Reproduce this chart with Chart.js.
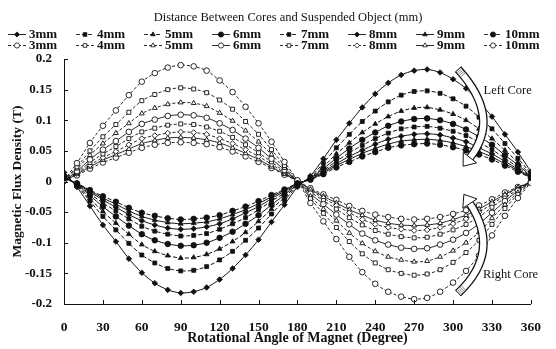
<!DOCTYPE html>
<html>
<head>
<meta charset="utf-8">
<script src="https://cdn.jsdelivr.net/npm/chart.js@4/dist/chart.umd.min.js"></script>
<style>
html,body{margin:0;padding:0;background:#fff;}
canvas{display:block;}
</style>
</head>
<body>
<canvas id="c" width="556" height="349"></canvas>
<script>
// ---------- data ----------
const angles = [0,10,20,30,40,50,60,70,80,90,100,110,120,130,140,150,160,170,180,190,200,210,220,230,240,250,260,270,280,290,300,310,320,330,340,350,360];
const seriesLabels = ['3mm','4mm','5mm','6mm','7mm','8mm','9mm','10mm'];
const xTickLabels = ['0','30','60','90','120','150','180','210','240','270','300','330','360'];
const yTickLabels = ['-0.2','-0.15','-0.1','-0.05','0','0.05','0.1','0.15','0.2'];
const legendTitle = 'Distance Between Cores and Suspended Object (mm)';
const xTitle = 'Rotational Angle of Magnet (Degree)';
const yTitle = 'Magnetic Flux Density (T)';

// Left core (filled markers)
const left3  = [0.015,-0.009,-0.040,-0.071,-0.098,-0.126,-0.149,-0.166,-0.177,-0.182,-0.180,-0.173,-0.160,-0.142,-0.120,-0.095,-0.066,-0.038,-0.009,0.009,0.037,0.068,0.095,0.121,0.143,0.161,0.174,0.181,0.183,0.178,0.167,0.152,0.130,0.106,0.077,0.048,0.016];
const left4  = [0.012,-0.007,-0.032,-0.057,-0.079,-0.101,-0.120,-0.133,-0.142,-0.146,-0.145,-0.139,-0.128,-0.114,-0.096,-0.076,-0.053,-0.031,-0.007,0.007,0.030,0.055,0.077,0.098,0.115,0.130,0.141,0.147,0.148,0.144,0.135,0.123,0.105,0.086,0.062,0.038,0.013];
const left5  = [0.010,-0.006,-0.028,-0.049,-0.068,-0.086,-0.103,-0.114,-0.121,-0.125,-0.124,-0.119,-0.110,-0.098,-0.083,-0.065,-0.045,-0.026,-0.006,0.006,0.024,0.045,0.063,0.080,0.094,0.106,0.115,0.120,0.121,0.117,0.110,0.100,0.086,0.070,0.051,0.031,0.011];
const left6  = [0.009,-0.005,-0.023,-0.041,-0.057,-0.072,-0.086,-0.096,-0.102,-0.105,-0.104,-0.100,-0.092,-0.082,-0.069,-0.055,-0.038,-0.022,-0.005,0.005,0.021,0.038,0.054,0.068,0.080,0.091,0.098,0.102,0.103,0.100,0.094,0.085,0.073,0.060,0.043,0.027,0.009];
const left7  = [0.007,-0.004,-0.020,-0.035,-0.048,-0.061,-0.073,-0.081,-0.086,-0.089,-0.088,-0.085,-0.078,-0.069,-0.059,-0.046,-0.032,-0.019,-0.004,0.005,0.018,0.033,0.047,0.059,0.070,0.079,0.086,0.089,0.090,0.087,0.082,0.075,0.064,0.052,0.038,0.023,0.008];
const left8  = [0.006,-0.004,-0.017,-0.030,-0.042,-0.054,-0.064,-0.071,-0.076,-0.078,-0.077,-0.074,-0.069,-0.061,-0.051,-0.041,-0.028,-0.016,-0.004,0.004,0.016,0.029,0.041,0.051,0.061,0.069,0.074,0.077,0.078,0.076,0.071,0.065,0.055,0.045,0.033,0.020,0.007];
const left9  = [0.006,-0.003,-0.015,-0.027,-0.037,-0.048,-0.057,-0.063,-0.067,-0.069,-0.068,-0.066,-0.061,-0.054,-0.046,-0.036,-0.025,-0.014,-0.003,0.003,0.014,0.026,0.036,0.046,0.054,0.061,0.066,0.068,0.069,0.067,0.063,0.057,0.049,0.040,0.029,0.018,0.006];
const left10 = [0.005,-0.003,-0.014,-0.024,-0.033,-0.043,-0.051,-0.056,-0.060,-0.062,-0.061,-0.059,-0.055,-0.048,-0.041,-0.032,-0.022,-0.013,-0.003,0.003,0.012,0.023,0.032,0.041,0.048,0.055,0.059,0.061,0.062,0.060,0.056,0.051,0.044,0.036,0.026,0.016,0.006];

// Right core (open markers)
const right3  = [0.002,0.030,0.063,0.091,0.116,0.141,0.163,0.177,0.186,0.190,0.188,0.181,0.165,0.146,0.122,0.095,0.065,0.032,0.002,-0.035,-0.065,-0.094,-0.123,-0.148,-0.167,-0.180,-0.188,-0.192,-0.190,-0.180,-0.165,-0.146,-0.121,-0.088,-0.056,-0.027,-0.002];
const right4  = [0.002,0.024,0.050,0.073,0.093,0.113,0.132,0.142,0.150,0.153,0.151,0.145,0.133,0.118,0.098,0.077,0.052,0.026,0.002,-0.028,-0.052,-0.075,-0.098,-0.118,-0.133,-0.144,-0.150,-0.153,-0.151,-0.144,-0.132,-0.116,-0.096,-0.070,-0.044,-0.021,-0.002];
const right5  = [0.002,0.021,0.043,0.062,0.079,0.095,0.111,0.120,0.126,0.129,0.128,0.123,0.112,0.099,0.083,0.065,0.044,0.022,0.001,-0.024,-0.045,-0.064,-0.084,-0.101,-0.114,-0.123,-0.128,-0.131,-0.130,-0.123,-0.113,-0.100,-0.083,-0.060,-0.038,-0.018,-0.001];
const right6  = [0.001,0.017,0.036,0.052,0.066,0.081,0.094,0.101,0.107,0.109,0.108,0.104,0.095,0.084,0.070,0.055,0.037,0.019,0.001,-0.020,-0.037,-0.054,-0.070,-0.085,-0.096,-0.103,-0.108,-0.110,-0.109,-0.103,-0.095,-0.084,-0.069,-0.051,-0.032,-0.015,-0.001];
const right7  = [0.001,0.015,0.031,0.045,0.057,0.070,0.081,0.087,0.092,0.094,0.093,0.089,0.082,0.072,0.060,0.047,0.032,0.016,0.001,-0.017,-0.031,-0.045,-0.059,-0.071,-0.080,-0.086,-0.090,-0.092,-0.091,-0.086,-0.079,-0.070,-0.058,-0.042,-0.027,-0.013,-0.001];
const right8  = [0.001,0.013,0.027,0.039,0.049,0.060,0.070,0.075,0.079,0.081,0.080,0.077,0.070,0.062,0.052,0.041,0.028,0.014,0.001,-0.014,-0.027,-0.039,-0.051,-0.062,-0.070,-0.075,-0.078,-0.080,-0.079,-0.075,-0.069,-0.061,-0.050,-0.037,-0.023,-0.011,-0.001];
const right9  = [0.001,0.012,0.024,0.035,0.044,0.053,0.062,0.067,0.071,0.072,0.071,0.068,0.063,0.055,0.046,0.036,0.024,0.012,0.001,-0.013,-0.024,-0.035,-0.046,-0.055,-0.063,-0.068,-0.071,-0.072,-0.071,-0.068,-0.062,-0.055,-0.045,-0.033,-0.021,-0.010,-0.001];
const right10 = [0.001,0.010,0.021,0.031,0.039,0.047,0.055,0.060,0.063,0.064,0.063,0.061,0.056,0.049,0.041,0.032,0.022,0.011,0.001,-0.011,-0.021,-0.030,-0.040,-0.048,-0.054,-0.058,-0.061,-0.062,-0.061,-0.058,-0.053,-0.047,-0.039,-0.029,-0.018,-0.009,-0.001];

const leftSeries  = [left3,left4,left5,left6,left7,left8,left9,left10];
const rightSeries = [right3,right4,right5,right6,right7,right8,right9,right10];

// ---------- styles ----------
const FONT = '"Liberation Serif", "Times New Roman", serif';
const INK = '#111';
const leftShapes  = ['rectRot','rect','triangle','circle','rect','rectRot','triangle','circle'];
const rightShapes = ['circle','rect','triangle','circle','rect','rectRot','triangle','circle'];
const leftDash  = [[],[4,2],[4,2],[],[4,2],[],[],[4,2]];
const rightDash = [[3,2],[3,2],[3,2],[],[3,2],[3,2],[],[3,2]];

function toPoints(vals){ return angles.map((a,i)=>({x:a,y:vals[i]})); }

const datasets = [];
leftSeries.forEach((vals,i)=>{
  datasets.push({
    label: seriesLabels[i], data: toPoints(vals),
    borderColor: INK, backgroundColor: INK, borderWidth: 1, borderDash: leftDash[i],
    pointStyle: leftShapes[i], pointRadius: 2.8, pointBorderWidth: 0.8,
    pointBackgroundColor: INK, pointBorderColor: INK, tension: 0.25, fill:false
  });
});
rightSeries.forEach((vals,i)=>{
  datasets.push({
    label: seriesLabels[i], data: toPoints(vals),
    borderColor: INK, backgroundColor: '#fff', borderWidth: 0.9, borderDash: rightDash[i],
    pointStyle: rightShapes[i], pointRadius: 2.8, pointBorderWidth: 0.9,
    pointBackgroundColor: '#fff', pointBorderColor: INK, tension: 0.25, fill:false
  });
});

// ---------- plugins ----------
const innerTicks = {
  id: 'innerTicks',
  afterDraw(chart){
    const {ctx, chartArea:a, scales:{x,y}} = chart;
    ctx.save();
    ctx.strokeStyle = INK; ctx.lineWidth = 1; ctx.setLineDash([]);
    x.ticks.forEach(t=>{ const px = Math.round(x.getPixelForValue(t.value))+0.5; ctx.beginPath(); ctx.moveTo(px,a.bottom); ctx.lineTo(px,a.bottom-4); ctx.stroke(); });
    y.ticks.forEach(t=>{ const py = Math.round(y.getPixelForValue(t.value))+0.5; ctx.beginPath(); ctx.moveTo(a.left,py); ctx.lineTo(a.left+4,py); ctx.stroke(); });
    ctx.restore();
  }
};

const legendX0 = 8, legendDX = 68, legendY0 = 34, legendDY = 11;
const customLegend = {
  id: 'customLegend',
  afterDraw(chart){
    const ctx = chart.ctx;
    ctx.save();
    ctx.fillStyle = INK;
    ctx.font = '12.5px ' + FONT;
    ctx.textAlign = 'center'; ctx.textBaseline = 'middle';
    ctx.fillText(legendTitle, 288, 18);
    ctx.textAlign = 'left';
    ctx.font = 'bold 13px ' + FONT;
    chart.data.datasets.forEach((ds,i)=>{
      const row = Math.floor(i/8), col = i%8;
      const x = legendX0 + col*legendDX, y = legendY0 + row*legendDY;
      ctx.strokeStyle = INK; ctx.lineWidth = 0.9; ctx.setLineDash(ds.borderDash||[]);
      ctx.beginPath(); ctx.moveTo(x, y+0.5); ctx.lineTo(x+18, y+0.5); ctx.stroke();
      ctx.setLineDash([]);
      ctx.fillStyle = ds.pointBackgroundColor; ctx.strokeStyle = INK; ctx.lineWidth = 0.8;
      Chart.helpers.drawPoint(ctx, {pointStyle: ds.pointStyle, radius: 2.6, borderWidth: 0.8, rotation: 0}, x+9, y+0.5);
      ctx.fillStyle = INK;
      ctx.fillText(ds.label, x+21, y+1);
    });
    ctx.restore();
  }
};

// annotation anchors in data units (angle, flux)
const leftArrow  = {p0:[304,0.183], m:[323,0.108], p1:[313,0.039]};
const rightArrow = {p0:[304,-0.182], m:[323,-0.112], p1:[313,-0.036]};
const leftLabel  = {text:'Left Core',  x:323.5, y:0.149};
const rightLabel = {text:'Right Core', x:323,   y:-0.152};

function drawArrow(ctx, x, y, spec){
  const P0 = [x.getPixelForValue(spec.p0[0]), y.getPixelForValue(spec.p0[1])];
  const M  = [x.getPixelForValue(spec.m[0]),  y.getPixelForValue(spec.m[1])];
  const P1 = [x.getPixelForValue(spec.p1[0]), y.getPixelForValue(spec.p1[1])];
  const C = [2*M[0]-(P0[0]+P1[0])/2, 2*M[1]-(P0[1]+P1[1])/2];
  let dx = P1[0]-C[0], dy = P1[1]-C[1]; const L = Math.hypot(dx,dy); dx/=L; dy/=L;
  const nx = -dy, ny = dx;
  ctx.lineCap = 'butt';
  ctx.strokeStyle = INK; ctx.lineWidth = 8.5;
  ctx.beginPath(); ctx.moveTo(P0[0],P0[1]); ctx.quadraticCurveTo(C[0],C[1],P1[0],P1[1]); ctx.stroke();
  ctx.strokeStyle = '#fff'; ctx.lineWidth = 6;
  ctx.beginPath(); ctx.moveTo(P0[0],P0[1]); ctx.quadraticCurveTo(C[0],C[1],P1[0],P1[1]); ctx.stroke();
  let tx = C[0]-P0[0], ty = C[1]-P0[1]; const TL = Math.hypot(tx,ty); tx/=TL; ty/=TL;
  ctx.strokeStyle = '#555'; ctx.lineWidth = 0.7;
  for(let k=1;k<=4;k++){
    const cx = P0[0]+tx*k*1.8, cy = P0[1]+ty*k*1.8;
    ctx.beginPath(); ctx.moveTo(cx-ty*2.8, cy+tx*2.8); ctx.lineTo(cx+ty*2.8, cy-tx*2.8); ctx.stroke();
  }
  ctx.strokeStyle = INK; ctx.lineWidth = 1;
  ctx.beginPath(); ctx.moveTo(P0[0]-ty*4.2, P0[1]+tx*4.2); ctx.lineTo(P0[0]+ty*4.2, P0[1]-tx*4.2); ctx.stroke();
  const tip = [P1[0]+dx*11, P1[1]+dy*11];
  ctx.beginPath();
  ctx.moveTo(P1[0]+nx*8.5, P1[1]+ny*8.5);
  ctx.lineTo(tip[0],tip[1]);
  ctx.lineTo(P1[0]-nx*8.5, P1[1]-ny*8.5);
  ctx.closePath();
  ctx.fillStyle = '#fff'; ctx.fill();
  ctx.strokeStyle = INK; ctx.lineWidth = 1; ctx.stroke();
}

const annotations = {
  id: 'annotations',
  afterDatasetsDraw(chart){
    const {ctx, scales:{x,y}} = chart;
    ctx.save();
    ctx.setLineDash([]);
    drawArrow(ctx, x, y, leftArrow);
    drawArrow(ctx, x, y, rightArrow);
    ctx.fillStyle = INK; ctx.font = '12.5px ' + FONT;
    ctx.textAlign = 'left'; ctx.textBaseline = 'middle';
    ctx.fillText(leftLabel.text, x.getPixelForValue(leftLabel.x), y.getPixelForValue(leftLabel.y));
    ctx.fillText(rightLabel.text, x.getPixelForValue(rightLabel.x), y.getPixelForValue(rightLabel.y));
    ctx.restore();
  }
};

// ---------- chart ----------
new Chart(document.getElementById('c'), {
  type: 'line',
  data: { datasets },
  options: {
    responsive: false, animation: false,
    layout: { padding: { top: 59, right: 10, left: 0, bottom: 0 } },
    plugins: { legend: { display: false }, tooltip: { enabled: false }, title: { display: false } },
    scales: {
      x: {
        type: 'linear', min: 0, max: 360,
        ticks: { stepSize: 30, padding: 15, maxRotation: 0, color: INK,
                 font: { family: FONT, size: 13.5, weight: 'bold' },
                 callback: (v,i)=>xTickLabels[i] },
        grid: { display: false, drawTicks: false },
        border: { display: true, color: INK, width: 1 },
        title: { display: true, text: xTitle, color: INK, font: { family: FONT, size: 14, weight: 'bold' }, padding: { top: 0, bottom: 2 } },
        afterFit(s){ s.height = 45; }
      },
      y: {
        type: 'linear', min: -0.2, max: 0.2,
        ticks: { stepSize: 0.05, padding: 12, color: INK,
                 font: { family: FONT, size: 13, weight: 'bold' },
                 callback: (v,i)=>yTickLabels[i] },
        grid: { display: false, drawTicks: false },
        border: { display: true, color: INK, width: 1 },
        title: { display: true, text: yTitle, color: INK, font: { family: FONT, size: 13.5, weight: 'bold' }, padding: { top: 9, bottom: 0 } },
        afterFit(s){ s.width = 64; }
      }
    }
  },
  plugins: [innerTicks, customLegend, annotations]
});
</script>
</body>
</html>
